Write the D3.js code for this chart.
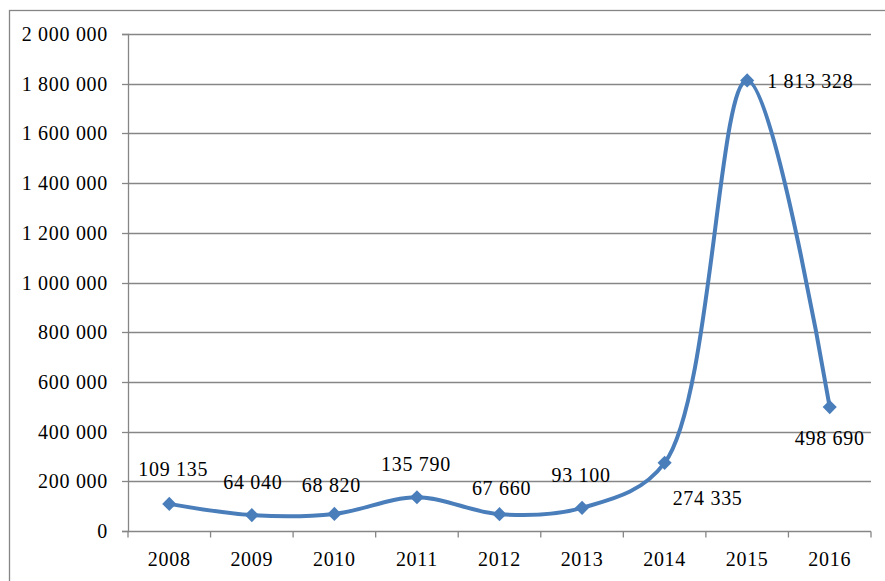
<!DOCTYPE html>
<html>
<head>
<meta charset="utf-8">
<script src="https://cdn.jsdelivr.net/npm/d3@7"></script>
<style>
  html, body { margin: 0; padding: 0; background: #fff; }
  svg { display: block; }
  text { font-family: "Liberation Serif", "Times New Roman", serif; font-size: 20px; fill: #000; letter-spacing: 0.7px; }
</style>
</head>
<body>
<svg id="chart" width="885" height="581"></svg>
<script>
// Yearly values
const years = ["2008", "2009", "2010", "2011", "2012", "2013", "2014", "2015", "2016"];
const values = [109135, 64040, 68820, 135790, 67660, 93100, 274335, 1813328, 498690];
const labels = ["109 135", "64 040", "68 820", "135 790", "67 660", "93 100", "274 335", "1 813 328", "498 690"];
const yTicks = [0, 200000, 400000, 600000, 800000, 1000000, 1200000, 1400000, 1600000, 1800000, 2000000];

// Data label placement relative to each marker: [dx, dy, anchor]
const labelPlacement = [
  [4, -28, "middle"], [1, -26, "middle"], [-3, -22, "middle"], [-1, -26, "middle"],
  [2, -19, "middle"], [-1, -26, "middle"], [43, 42, "middle"], [20, 8, "start"], [0, 38, "middle"]
];

const svg = d3.select("#chart");
const margin = { left: 128, right: 14, top: 34, bottom: 50 };
const W = 885, H = 581;
const gridColor = "#868686";
const lineColor = "#4a7ebb";

// Outer frame
svg.append("rect")
  .attr("x", 9.5).attr("y", 10.5)
  .attr("width", 900).attr("height", 600)
  .attr("fill", "none").attr("stroke", gridColor).attr("stroke-width", 1.3);

const x = d3.scaleBand().domain(years).range([margin.left, W - margin.right]).padding(0);
const y = d3.scaleLinear().domain([0, 2000000]).range([H - margin.bottom, margin.top]);

const fmt = v => d3.format(",")(v).replace(/,/g, " ");

// Horizontal gridlines + y axis
const yAxis = d3.axisLeft(y).tickValues(yTicks).tickFormat(fmt).tickSize(6).tickPadding(14);
const gy = svg.append("g").attr("transform", `translate(${margin.left},0)`).call(yAxis);
gy.select(".domain").attr("stroke", gridColor).attr("stroke-width", 1.3);
gy.selectAll(".tick line").attr("stroke", gridColor).attr("stroke-width", 1.3);
gy.selectAll(".tick text").attr("font-family", null).attr("font-size", null).attr("dy", "0.3em");

svg.append("g").selectAll("line")
  .data(yTicks.filter(d => d > 0))
  .join("line")
  .attr("x1", margin.left).attr("x2", W - margin.right)
  .attr("y1", d => Math.round(y(d)) + 0.5).attr("y2", d => Math.round(y(d)) + 0.5)
  .attr("stroke", gridColor).attr("stroke-width", 1.3);
gy.selectAll(".tick").attr("transform", d => `translate(0,${Math.round(y(d)) + 0.5})`);

// x axis with ticks on category boundaries
const gx = svg.append("g").attr("transform", `translate(0,${Math.round(y(0)) + 0.5})`);
gx.append("line")
  .attr("x1", margin.left).attr("x2", W - margin.right)
  .attr("stroke", gridColor).attr("stroke-width", 1.3);
const bounds = years.map(d => x(d)).concat([x(years[years.length - 1]) + x.bandwidth()]);
gx.selectAll("line.tk").data(bounds).join("line").attr("class", "tk")
  .attr("x1", d => d).attr("x2", d => d).attr("y1", 0).attr("y2", 6)
  .attr("stroke", gridColor).attr("stroke-width", 1.3);
gx.selectAll("text").data(years).join("text")
  .attr("x", d => x(d) + x.bandwidth() / 2)
  .attr("y", 34)
  .attr("text-anchor", "middle")
  .text(d => d);

// Smoothed series line
const pts = years.map((yr, i) => [x(yr) + x.bandwidth() / 2, y(values[i])]);
svg.append("path")
  .datum(pts)
  .attr("d", d3.line().curve(d3.curveCatmullRom.alpha(0.5)))
  .attr("fill", "none")
  .attr("stroke", lineColor)
  .attr("stroke-width", 4)
  .attr("stroke-linejoin", "round");

// Diamond markers
svg.append("g").selectAll("path")
  .data(pts)
  .join("path")
  .attr("transform", d => `translate(${d[0]},${d[1]}) rotate(45)`)
  .attr("d", d3.symbol(d3.symbolSquare, 100))
  .attr("fill", lineColor);

// Data labels
svg.append("g").selectAll("text")
  .data(pts)
  .join("text")
  .attr("x", (d, i) => d[0] + labelPlacement[i][0])
  .attr("y", (d, i) => d[1] + labelPlacement[i][1])
  .attr("text-anchor", (d, i) => labelPlacement[i][2])
  .text((d, i) => labels[i]);
</script>
</body>
</html>
